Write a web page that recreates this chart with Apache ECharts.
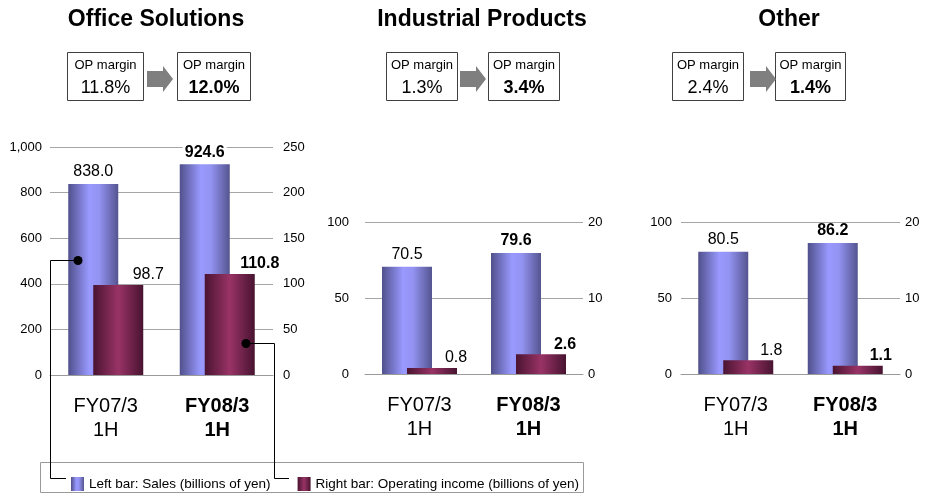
<!DOCTYPE html>
<html>
<head>
<meta charset="utf-8">
<script src="https://cdn.jsdelivr.net/npm/echarts@6/dist/echarts.min.js"></script>
<style>
html,body{margin:0;padding:0;background:#fff;}
#c{width:929px;height:494px;}
</style>
</head>
<body>
<div id="c"></div>
<script>
// ---- data ----
const segments = ['Office Solutions', 'Industrial Products', 'Other'];
const categories = ['FY07/3\n1H', 'FY08/3\n1H'];
const salesOffice = [838.0, 924.6];
const salesIndustrial = [70.5, 79.6];
const salesOther = [80.5, 86.2];
const opOffice = [98.7, 110.8];
const opIndustrial = [0.8, 2.6];
const opOther = [1.8, 1.1];
const opMarginPrev = ['11.8%', '1.3%', '2.4%'];
const opMarginCur = ['12.0%', '3.4%', '1.4%'];
const salesAxisMax = [1000, 100, 100];
const salesAxisStep = [200, 50, 50];
const opAxisMax = [250, 20, 20];
const opAxisStep = [50, 10, 10];
const seriesNames = ['Left bar: Sales (billions of yen)', 'Right bar: Operating income (billions of yen)'];

const salesData = [salesOffice, salesIndustrial, salesOther];
const opData = [opOffice, opIndustrial, opOther];

// ---- layout ----
const FONT = "'Liberation Sans', Arial, Helvetica, sans-serif";
const grids = [
  {left: 50, top: 147, width: 223, height: 228},
  {left: 365, top: 222, width: 218, height: 152},
  {left: 681, top: 222, width: 219, height: 152}
];
const leftLabelMargin = [8, 16, 9];
const rightLabelMargin = [10, 5, 5];
const redLabelOffset = [30, 24, 23];
const titleX = [156, 482, 789];
const boxes = [
  {b1: 67, w1: 76, a: 147, b2: 177, w2: 73},
  {b1: 386, w1: 71, a: 460, b2: 488, w2: 71},
  {b1: 672, w1: 71, a: 750, b2: 775, w2: 70}
];

const blueGrad = new echarts.graphic.LinearGradient(0, 0, 1, 0, [
  {offset: 0, color: '#50508c'},
  {offset: 0.42, color: '#9999ff'},
  {offset: 0.62, color: '#9393f2'},
  {offset: 1, color: '#545490'}
]);
const redGrad = new echarts.graphic.LinearGradient(0, 0, 1, 0, [
  {offset: 0, color: '#4a1431'},
  {offset: 0.5, color: '#993366'},
  {offset: 1, color: '#481330'}
]);

const xAxes = [], yAxes = [], series = [];
grids.forEach((g, i) => {
  xAxes.push({
    type: 'category', gridIndex: i, data: categories,
    axisLine: {show: true, lineStyle: {color: '#9a9a9a', width: 1}},
    axisTick: {show: false},
    axisLabel: {
      margin: 19, color: '#000', fontFamily: FONT,
      formatter: (v, idx) => v.split('\n').map(s => '{' + (idx === 1 ? 'b' : 'n') + '|' + s + '}').join('\n'),
      rich: {
        n: {fontSize: 20, lineHeight: 24, fontFamily: FONT, color: '#000'},
        b: {fontSize: 20, lineHeight: 24, fontFamily: FONT, color: '#000', fontWeight: 'bold'}
      }
    }
  });
  yAxes.push({
    type: 'value', gridIndex: i, min: 0, max: salesAxisMax[i], interval: salesAxisStep[i],
    position: 'left',
    axisLine: {show: false}, axisTick: {show: false},
    splitLine: {show: true, lineStyle: {color: '#a6a6a6', width: 1}},
    axisLabel: {margin: leftLabelMargin[i], fontSize: 13, color: '#000', fontFamily: FONT,
      formatter: v => v.toLocaleString('en-US')}
  });
  yAxes.push({
    type: 'value', gridIndex: i, min: 0, max: opAxisMax[i], interval: opAxisStep[i],
    position: 'right',
    axisLine: {show: false}, axisTick: {show: false},
    splitLine: {show: false},
    axisLabel: {margin: rightLabelMargin[i], fontSize: 13, color: '#000', fontFamily: FONT}
  });
  series.push({
    type: 'bar', name: seriesNames[0], xAxisIndex: i, yAxisIndex: 2 * i,
    barWidth: 50, barGap: '-50%',
    itemStyle: {color: blueGrad},
    label: {show: true, position: 'top', distance: 4, fontSize: 16, color: '#000', fontFamily: FONT,
      backgroundColor: '#fff', padding: [0, 2],
      formatter: p => p.value.toFixed(1)},
    data: salesData[i].map((v, k) => ({value: v, label: {fontWeight: k === 1 ? 'bold' : 'normal'}})),
    z: 2
  });
  series.push({
    type: 'bar', name: seriesNames[1], xAxisIndex: i, yAxisIndex: 2 * i + 1,
    barWidth: 50, barGap: '-50%',
    itemStyle: {color: redGrad},
    label: {show: true, position: 'top', distance: 2, offset: [redLabelOffset[i], 0], fontSize: 16, color: '#000', fontFamily: FONT,
      formatter: p => p.value.toFixed(1)},
    data: opData[i].map((v, k) => ({value: v, label: {fontWeight: k === 1 ? 'bold' : 'normal'}})),
    z: 3
  });
});

// ---- graphics: titles, OP margin boxes, legend frame, connectors ----
const graphic = [];
segments.forEach((s, i) => {
  graphic.push({type: 'text', x: titleX[i], y: 20, z: 10,
    style: {text: s, font: 'bold 23px ' + FONT, fill: '#000', align: 'center', verticalAlign: 'middle'}});
  const b = boxes[i];
  [[b.b1, b.w1, opMarginPrev[i], 'normal'], [b.b2, b.w2, opMarginCur[i], 'bold']].forEach(([x, w, val, fw]) => {
    graphic.push({type: 'rect', shape: {x: x + 0.5, y: 52.5, width: w, height: 48}, z: 10,
      style: {fill: '#fff', stroke: '#404040', lineWidth: 1}});
    graphic.push({type: 'text', x: x + w / 2 + 0.5, y: 65, z: 11,
      style: {text: 'OP margin', font: '13px ' + FONT, fill: '#000', align: 'center', verticalAlign: 'middle'}});
    graphic.push({type: 'text', x: x + w / 2 + 0.5, y: 88, z: 11,
      style: {text: val, font: fw + ' 18px ' + FONT, fill: '#000', align: 'center', verticalAlign: 'middle'}});
  });
  const a = b.a;
  graphic.push({type: 'polygon', z: 10,
    shape: {points: [[a, 71], [a + 16, 71], [a + 16, 66], [a + 26, 79], [a + 16, 92], [a + 16, 87], [a, 87]]},
    style: {fill: '#7f7f7f'}});
});
// legend frame
graphic.push({type: 'rect', shape: {x: 40.5, y: 462.5, width: 543, height: 30}, z: 1,
  style: {fill: 'none', stroke: '#9a9a9a', lineWidth: 1}});
// connectors
graphic.push({type: 'polyline', z: 20, shape: {points: [[78, 260.5], [50.5, 260.5], [50.5, 478.5], [66, 478.5]]},
  style: {stroke: '#000', lineWidth: 1, fill: 'none'}});
graphic.push({type: 'polyline', z: 20, shape: {points: [[246, 343.5], [274.5, 343.5], [274.5, 478.5], [289, 478.5]]},
  style: {stroke: '#000', lineWidth: 1, fill: 'none'}});
graphic.push({type: 'circle', z: 21, shape: {cx: 78, cy: 260.5, r: 4.5}, style: {fill: '#000'}});
graphic.push({type: 'circle', z: 21, shape: {cx: 246, cy: 343.5, r: 4.5}, style: {fill: '#000'}});

const chart = echarts.init(document.getElementById('c'), null, {renderer: 'canvas'});
chart.setOption({
  animation: false,
  backgroundColor: '#fff',
  textStyle: {fontFamily: FONT},
  grid: grids.map(g => Object.assign({containLabel: false}, g)),
  xAxis: xAxes,
  yAxis: yAxes,
  series: series,
  legend: {
    left: 66, top: 472, itemWidth: 13, itemHeight: 14, itemGap: 27,
    icon: 'rect', data: seriesNames,
    textStyle: {fontSize: 13.5, color: '#000', fontFamily: FONT},
    selectedMode: false
  },
  graphic: graphic
});
</script>
</body>
</html>
